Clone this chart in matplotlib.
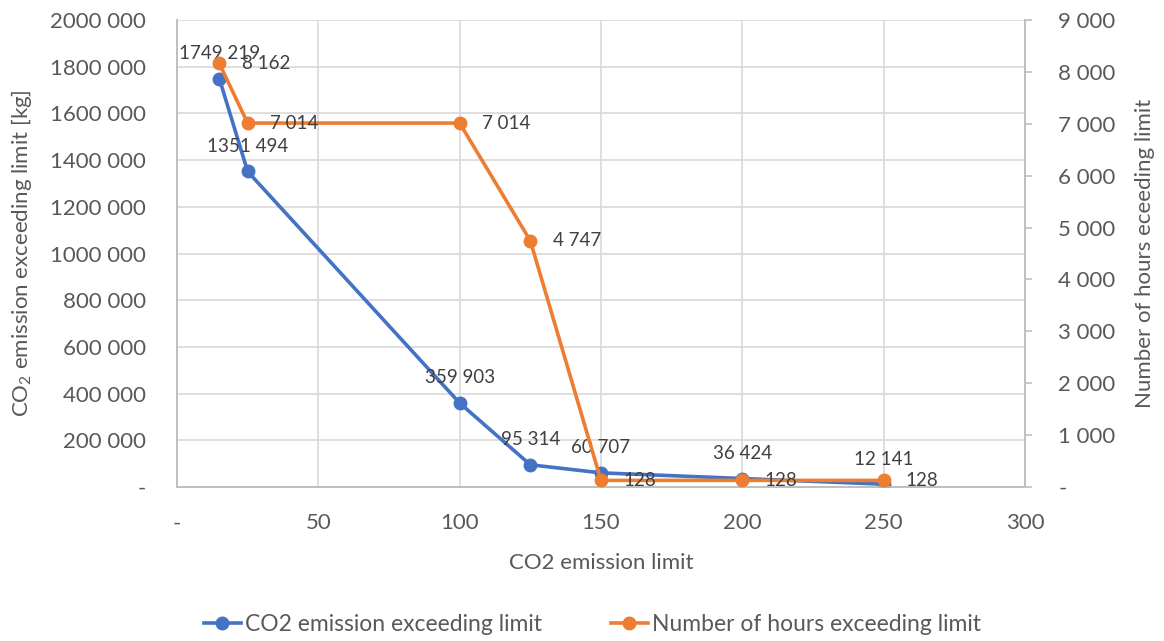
import numpy as np
import matplotlib
matplotlib.use("Agg")
import matplotlib.pyplot as plt
from matplotlib.ticker import FuncFormatter, MultipleLocator

plt.rcParams['font.family'] = ['Lato', 'DejaVu Sans']
plt.rcParams['mathtext.fontset'] = 'custom'
plt.rcParams['mathtext.rm'] = 'Lato'

# data
limits = [15, 25, 100, 125, 150, 200, 250]
co2_exceed = [1749219, 1351494, 359903, 95314, 60707, 36424, 12141]
hours_exceed = [8162, 7014, 7014, 4747, 128, 128, 128]

blue = '#4472C4'
orange = '#ED7D31'
txt = '#595959'
grid = '#D9D9D9'
spine = '#BFBFBF'


def fmt_num(v, pos=None):
    v = int(round(v))
    if v == 0:
        return '-'
    if v >= 1000:
        return f"{v // 1000} {v % 1000:03d}"
    return str(v)


fig = plt.figure(figsize=(11.64, 6.41), dpi=100)
ax = fig.add_axes([0.152, 0.2402, 0.7286, 0.7286])
ax2 = ax.twinx()

ax.plot(limits, co2_exceed, '-o', color=blue, lw=2.6, ms=9,
        label='CO2 emission exceeding limit', zorder=3)
ax2.plot(limits, hours_exceed, '-o', color=orange, lw=2.6, ms=9,
         label='Number of hours exceeding limit', zorder=3)

ax.set_xlim(0, 300)
ax.set_ylim(0, 2000000)
ax2.set_ylim(0, 9000)
ax.xaxis.set_major_locator(MultipleLocator(50))
ax.yaxis.set_major_locator(MultipleLocator(200000))
ax2.yaxis.set_major_locator(MultipleLocator(1000))
ax.xaxis.set_major_formatter(FuncFormatter(fmt_num))
ax.yaxis.set_major_formatter(FuncFormatter(fmt_num))
ax2.yaxis.set_major_formatter(FuncFormatter(fmt_num))

ax.grid(True, color=grid, lw=1.2)
ax.set_axisbelow(True)
for a in (ax, ax2):
    a.spines['top'].set_visible(False)
    for s in ('left', 'bottom', 'right'):
        a.spines[s].set_color(spine)
        a.spines[s].set_linewidth(1.2)
ax.tick_params(axis='y', length=0, labelsize=16, labelcolor=txt, pad=22)
ax.tick_params(axis='x', length=0, labelsize=16, labelcolor=txt, pad=19)
ax2.tick_params(axis='y', length=5, width=1.2, color=spine, labelsize=16,
                labelcolor=txt, pad=19)

ax.set_xlabel('CO2 emission limit', fontsize=16, color=txt, labelpad=14)
ax.set_ylabel(r'CO$_\mathregular{2}$ emission exceeding limit [kg]', fontsize=16,
              color=txt, labelpad=12)
ax2.set_ylabel('Number of hours eceeding limit', fontsize=16, color=txt,
               labelpad=14)

# data labels
for x, y in zip(limits, co2_exceed):
    ax.annotate(fmt_num(y), (x, y), xytext=(0, 12), textcoords='offset points',
                ha='center', va='bottom', fontsize=13.5, color='#404040')
for x, y in zip(limits, hours_exceed):
    ax2.annotate(fmt_num(y), (x, y), xytext=(16, 0), textcoords='offset points',
                 ha='left', va='center', fontsize=13.5, color='#404040')

h1, l1 = ax.get_legend_handles_labels()
h2, l2 = ax2.get_legend_handles_labels()
fig.legend(h1 + h2, l1 + l2, loc='center', bbox_to_anchor=(0.509, 0.025),
           ncol=2, frameon=False, fontsize=16.5, labelcolor=txt,
           handlelength=1.6, handletextpad=0.2, columnspacing=3.0)

fig.savefig('out.png', dpi=100)
